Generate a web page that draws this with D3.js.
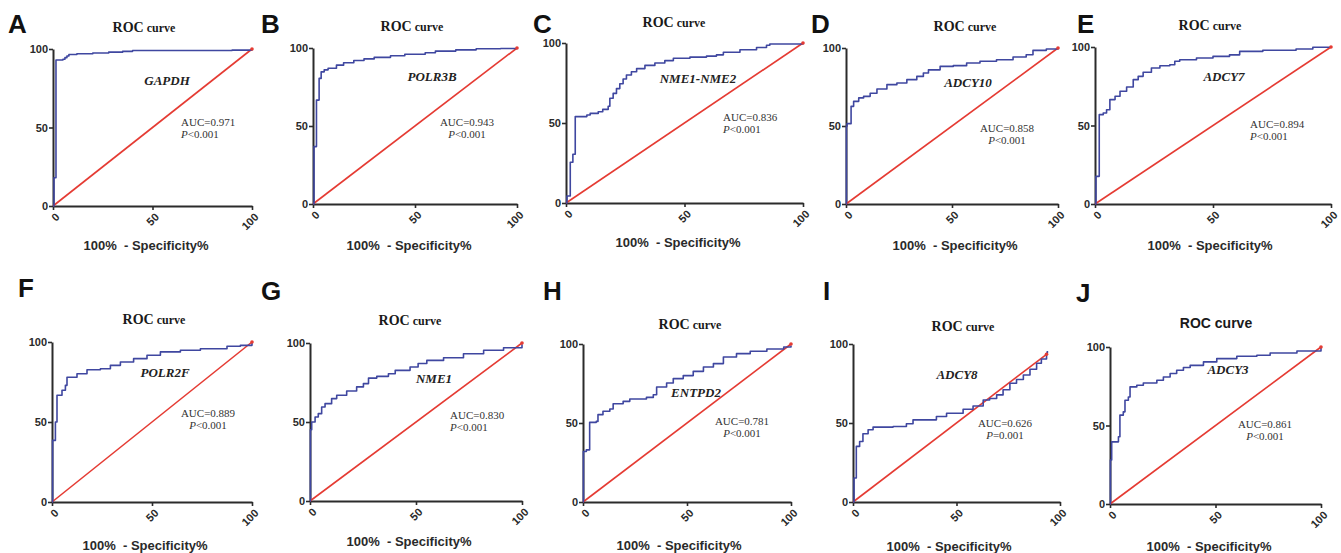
<!DOCTYPE html>
<html><head><meta charset="utf-8">
<script src="https://cdn.jsdelivr.net/npm/d3@7"></script>
<style>
html,body{margin:0;padding:0;background:#fff;}
svg{display:block;}
</style>
</head><body>
<svg id="chart" width="1341" height="553"></svg>
<script>
// ---------------- DATA ----------------
const panelLetters = ["A","B","C","D","E","F","G","H","I","J"];
const geneNames = ["GAPDH","POLR3B","NME1-NME2","ADCY10","ADCY7","POLR2F","NME1","ENTPD2","ADCY8","ADCY3"];
const aucValues = ["0.971","0.943","0.836","0.858","0.894","0.889","0.830","0.781","0.626","0.861"];
const pValues = ["<0.001","<0.001","<0.001","<0.001","<0.001","<0.001","<0.001","<0.001","=0.001","<0.001"];
const xTickValues = [0, 50, 100];
const yTickValues = [0, 50, 100];
const titleText = "ROC curve";
const xAxisTitle = "100%  - Specificity%";

// ROC points: [100% - specificity, sensitivity]
const rocGAPDH = [[0,0],[0.5,18],[1.5,93],[5,93.5],[6,94.5],[7,95.5],[8,96.5],[12,97],[20,97.5],[28,98],[35,98.5],[40,99],[70,99],[90,99.3],[100,100]];
const rocPOLR3B = [[0,0],[0.5,36.8],[1.7,66.6],[3,80.5],[4,84.7],[5.5,86],[7.4,87],[11.5,89],[15,90.5],[20,92],[25,93],[30,94],[38,95],[45,96],[55,97],[60,98],[70,98.8],[80,99.5],[92,99.7],[100,100]];
const rocNME1NME2 = [[0,0],[0.4,4.4],[1.8,25.5],[2.9,30.5],[3.9,54],[8.8,55],[10.2,56],[13.6,57],[15.5,58.5],[17.8,60.5],[18.5,65.5],[19.9,68.5],[21.3,71.5],[22.7,74.5],[24.1,77.5],[25.5,80],[27.6,82],[29.8,84],[33.3,86],[37.5,87.5],[41.7,89],[45.3,90.5],[52.3,91.2],[59.3,91.8],[63.5,92.6],[66.4,94.2],[73.4,95.8],[80.4,97.2],[84.6,98.6],[86,99.4],[100,100]];
const rocADCY10 = [[0,0],[0.2,49.8],[0.5,51.5],[2.4,62.6],[3.6,65.8],[6,68],[8.3,69],[11.4,71],[14.6,73.7],[19.3,76.5],[24,77.6],[28.7,79.7],[33.4,81.8],[36.5,84],[38.9,86],[44.4,88.2],[50.6,88.7],[56.9,90.4],[63.2,91.5],[71,92.5],[78.8,94.2],[85,95.7],[88.2,98.5],[94.5,99.4],[100,100]];
const rocADCY7 = [[0,0],[0.4,17.6],[1.8,56.9],[3.5,58],[4.9,60],[6.3,66.5],[8.5,68.6],[10.6,71.8],[13.4,74.5],[16.2,79.2],[18.3,81.3],[20.4,83.9],[23.9,86.6],[27.5,88.1],[31.7,88.7],[33.8,90.9],[35.9,91.9],[43,93],[50,94],[57,95],[61.3,97.2],[71.1,97.9],[85.2,98.7],[92.3,99.8],[100,100]];
const rocPOLR2F = [[0,0],[0.3,38.5],[1.7,50],[2.5,66.7],[5,69.8],[6.7,72.9],[7.5,78],[12.5,80.2],[17.5,82.7],[24.2,83.3],[29.2,85.4],[34.2,87.5],[40.8,89.6],[47.5,91.7],[54.2,93.8],[64.2,94.8],[74.2,95.8],[87.5,97.3],[94.2,97.9],[100,100]];
const rocNME1 = [[0,0],[0.2,45.1],[0.8,50],[2.4,53.2],[3.9,55.3],[5.5,59.5],[7.1,61.6],[10.2,64.8],[12.6,66.9],[17.3,69.6],[22,72.2],[25.2,74.3],[27.6,77.8],[31.5,78.9],[37,80.5],[40.2,82.7],[47.2,84.8],[51,87],[55.1,89],[63,90.7],[72.4,93.2],[81.9,95.4],[91.3,97],[100,99.2]];
const rocENTPD2 = [[0,0],[0.2,32],[1.6,33],[3.2,50.4],[6.4,51],[7.2,55.3],[9.6,57.4],[12.9,58.9],[14.5,62.2],[19.3,63.7],[22.5,65.2],[30.5,66.2],[33.8,67.9],[35.4,72.8],[40.2,75.3],[43.4,78.1],[48.2,80],[53,82.7],[57.9,85.4],[62.7,87.6],[67.5,91.8],[73.8,93.9],[80.4,95.4],[88.4,96.8],[96.5,98.1],[100,99]];
const rocADCY8 = [[0,0],[0.5,15.2],[1.6,35.2],[3.2,38.3],[4.8,43.2],[7.3,45.7],[9.7,47.4],[19.4,47.8],[25.8,49.5],[29,52],[40.3,54.1],[45.2,56.2],[53.2,58.7],[58,60.8],[62.9,64.6],[66,65.5],[69.4,67.8],[72.5,71],[75.8,75.2],[79,77.5],[82.3,80.4],[85.5,84],[88.7,87.8],[91,90.5],[93.5,94.1],[93.9,95.6]];
const rocADCY3 = [[0,0],[0.2,28],[0.8,39.6],[4,42.8],[4.7,56.6],[6.3,58.7],[7.1,66.1],[8.7,68.2],[9.5,74.6],[12.7,75.6],[15.8,77.1],[22.2,78.8],[25.3,80.9],[28.5,83.1],[31.6,85.2],[34.8,86.9],[38,88.3],[44.3,90.5],[50.6,92.6],[60.1,94.1],[69.6,94.7],[75.9,96.2],[88.6,97.5],[100,99.6]];
const rocSeries = [rocGAPDH, rocPOLR3B, rocNME1NME2, rocADCY10, rocADCY7, rocPOLR2F, rocNME1, rocENTPD2, rocADCY8, rocADCY3];
const diagonalEnd = [100,100,100,100,100,100,100,100,93.5,100];

// ---------------- LAYOUT ----------------
// plot frame: left, right, top(=100), bottom(=0)
const frames = [
  {l:53, r:252, t:49, b:206},
  {l:313, r:517, t:48, b:204},
  {l:566, r:803, t:43, b:203},
  {l:846, r:1058, t:48, b:204},
  {l:1095, r:1331, t:47, b:204},
  {l:52, r:252, t:342, b:502},
  {l:310, r:522, t:343, b:501},
  {l:583, r:791, t:344, b:502},
  {l:853, r:1060, t:344, b:502},
  {l:1110, r:1321, t:347, b:504}
];
const letterPos = [[8,33],[261,33],[533,33],[811,33],[1077,33],[18,297],[261,300],[543,300],[823,300],[1076,302]];
const titlePos = [[144,26],[412,25],[674,21],[965,25],[1210,24],[154,318],[410,319],[690,323],[963,325],[1216,323]];
const genePos = [[167,80],[432,76],[698,78],[968,82],[1224,76],[165,372],[434,378],[696,392],[957,374],[1228,369]];
// [x, y of line1, anchor]
const aucPos = [[181,122,"start"],[467,122,"middle"],[723,117,"start"],[1007,128,"middle"],[1250,124,"start"],
                [208,413,"middle"],[450,415,"start"],[742,421,"middle"],[1005,423,"middle"],[1265,424,"middle"]];
const xTitlePos = [[146,245],[409,245],[678,242],[955,245],[1210,245],[145,545],[409,541],[679,545],[949,546],[1209,546]];

const BLUE = "#3f47a0", RED = "#e53b33", AXIS = "#2b2b2b";

const svg = d3.select("#chart");

rocSeries.forEach((data, i) => {
  const f = frames[i];
  const x = d3.scaleLinear().domain([0,100]).range([f.l, f.r]);
  const y = d3.scaleLinear().domain([0,100]).range([f.b, f.t]);
  const g = svg.append("g");

  // panel letter
  g.append("text").attr("x", letterPos[i][0]).attr("y", letterPos[i][1])
    .attr("font-family","Liberation Sans, Arial, sans-serif").attr("font-weight","bold")
    .attr("font-size", 26).attr("fill","#111").text(panelLetters[i]);

  // title
  const t = g.append("text").attr("x", titlePos[i][0]).attr("y", titlePos[i][1])
    .attr("dy","0.35em").attr("text-anchor","middle").attr("fill","#1a1a1a").attr("font-weight","bold");
  if (i === 9) {
    t.attr("font-family","Liberation Sans, Arial, sans-serif").attr("font-size",14).text(titleText);
  } else {
    const parts = titleText.split(" ");
    t.attr("font-family","Liberation Serif, Times New Roman, serif");
    t.append("tspan").attr("font-size",14).text(parts[0]);
    t.append("tspan").attr("font-size",12).text(" " + parts[1]);
  }

  // axes
  const xAxis = d3.axisBottom(x).tickValues(xTickValues).tickSize(4).tickSizeOuter(0);
  const yAxis = d3.axisLeft(y).tickValues(yTickValues).tickSize(4).tickPadding(1).tickSizeOuter(0);
  const gx = g.append("g").attr("transform", `translate(0,${f.b})`).call(xAxis);
  const gy = g.append("g").attr("transform", `translate(${f.l},0)`).call(yAxis);
  [gx, gy].forEach(a => {
    a.select(".domain").attr("stroke", AXIS).attr("stroke-width", 2);
    a.selectAll(".tick line").attr("stroke", AXIS).attr("stroke-width", 1.6);
    a.selectAll(".tick text").attr("font-family","Liberation Sans, Arial, sans-serif")
      .attr("font-weight","bold").attr("font-size", 11).attr("fill","#2a2a2a");
  });
  gx.selectAll(".tick text").attr("x",0).attr("y",0).attr("dy","0.35em")
    .attr("text-anchor","end").attr("transform","translate(4,9) rotate(-45)");

  // diagonal reference line
  const line = d3.line().x(d => x(d[0])).y(d => y(d[1]));
  g.append("path").datum([[0,0],[diagonalEnd[i], diagonalEnd[i]]])
    .attr("d", line).attr("fill","none").attr("stroke", RED).attr("stroke-width", 1.6);

  // ROC curve
  const stepLine = d3.line().x(d => x(d[0])).y(d => y(d[1])).curve(d3.curveStepAfter);
  g.append("path").datum(data).attr("d", stepLine).attr("fill","none")
    .attr("stroke", BLUE).attr("stroke-width", 1.6).attr("stroke-linejoin","round");

  // end marker
  g.append("circle").attr("cx", x(diagonalEnd[i])).attr("cy", y(diagonalEnd[i])).attr("r", 1.8).attr("fill", RED);

  // gene label
  g.append("text").attr("x", genePos[i][0]).attr("y", genePos[i][1]).attr("dy","0.35em")
    .attr("text-anchor","middle").attr("font-family","Liberation Serif, Times New Roman, serif")
    .attr("font-weight","bold").attr("font-style","italic").attr("font-size", 13).attr("fill","#222")
    .text(geneNames[i]);

  // AUC and P text
  const ap = aucPos[i];
  g.append("text").attr("x", ap[0]).attr("y", ap[1]).attr("dy","0.35em").attr("text-anchor", ap[2])
    .attr("font-family","Liberation Serif, Times New Roman, serif").attr("font-size", 11).attr("fill","#333")
    .text("AUC=" + aucValues[i]);
  const pt = g.append("text").attr("x", ap[0]).attr("y", ap[1] + 12).attr("dy","0.35em").attr("text-anchor", ap[2])
    .attr("font-family","Liberation Serif, Times New Roman, serif").attr("font-size", 11).attr("fill","#333");
  pt.append("tspan").attr("font-style","italic").text("P");
  pt.append("tspan").text(pValues[i]);

  // x axis title
  g.append("text").attr("x", xTitlePos[i][0]).attr("y", xTitlePos[i][1]).attr("dy","0.35em")
    .attr("text-anchor","middle").attr("font-family","Liberation Sans, Arial, sans-serif")
    .attr("font-weight","bold").attr("font-size", 13).attr("fill","#2a2a2a")
    .style("white-space","pre").text(xAxisTitle);
});
</script>
</body></html>
